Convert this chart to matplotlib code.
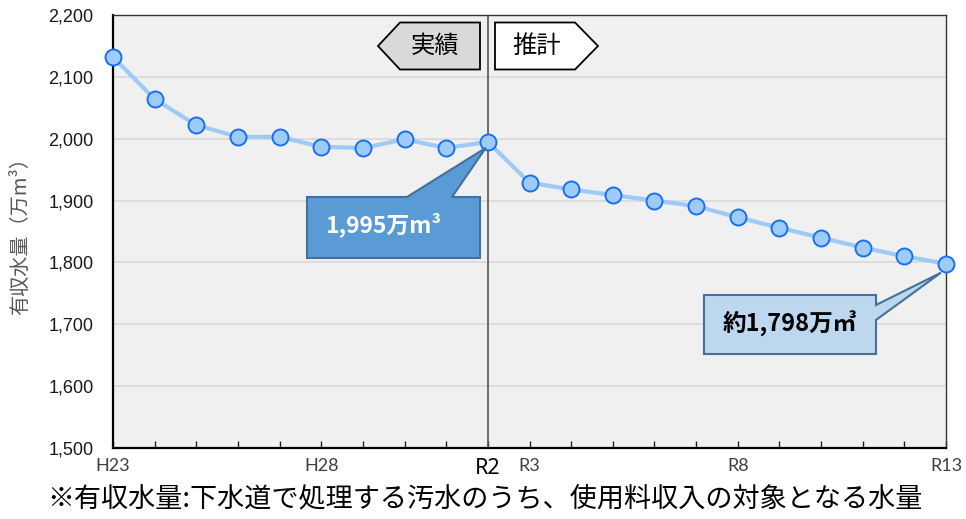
import numpy as np
import matplotlib
matplotlib.use("Agg")
import matplotlib.pyplot as plt
from matplotlib.patches import Polygon
from matplotlib.transforms import IdentityTransform

# ---- data ----
years = ["H23", "H24", "H25", "H26", "H27", "H28", "H29", "H30", "R1", "R2",
         "R3", "R4", "R5", "R6", "R7", "R8", "R9", "R10", "R11", "R12", "R13"]
values = [2132, 2064, 2022, 2003, 2003, 1987, 1985, 1999, 1985, 1995,
          1929, 1918, 1909, 1900, 1891, 1873, 1856, 1840, 1824, 1810, 1798]
shown_labels = ["H23", "H28", "R2", "R3", "R8", "R13"]
yticks = [1500, 1600, 1700, 1800, 1900, 2000, 2100, 2200]

JP = ["Noto Sans CJK JP", "DejaVu Sans"]
plt.rcParams['font.family'] = JP

W, H = 966, 519
fig = plt.figure(figsize=(W / 100, H / 100), dpi=100)
ax = fig.add_axes([113 / W, 1 - 448 / H, (946 - 113) / W, (448 - 15) / H])
ax.set_facecolor("#f0f0f0")

x = np.arange(len(years))
ax.plot(x, values, color="#9dcaf6", lw=3, zorder=3, clip_on=False)
ax.plot(x, values, ls="none", marker="o", ms=11.5, mfc="#9dcbfa", mec="#1a6ff0",
        mew=1.4, zorder=4, clip_on=False)

ax.set_xlim(0, len(years) - 1)
ax.set_ylim(1500, 2200)
ax.set_yticks(yticks)
ax.set_yticklabels([f"{v:,}" for v in yticks], family=["Liberation Sans"],
                   fontsize=13, color="#1a1a1a")
ax.tick_params(axis="y", length=0, pad=14)
ax.grid(axis="y", color="#d9d9d9", lw=1.2)
ax.set_axisbelow(True)

ax.set_xticks(x, minor=True)
ax.set_xticks([years.index(l) for l in shown_labels])
ax.set_xticklabels(shown_labels, family=["Lato"], fontsize=13, color="#404040")
for t in ax.get_xticklabels():
    if t.get_text() == "R2":
        t.set_fontsize(15.5)
        t.set_color("black")
        t.set_fontweight("bold")
        t.set_family(["Noto Sans"])
ax.tick_params(axis="x", which="both", direction="in", length=5, width=1,
               color="#222222", pad=7)

for s in ["left", "bottom"]:
    ax.spines[s].set_color("black")
    ax.spines[s].set_linewidth(1.6)
for s in ["top", "right"]:
    ax.spines[s].set_color("#333333")
    ax.spines[s].set_linewidth(1.0)

# divider at R2
ax.axvline(years.index("R2"), color="#555555", lw=1.2, zorder=2)

ax.set_ylabel("有収水量（万m³）", fontsize=14.5, color="#595959", labelpad=12)

# pixel helper (origin top-left like the reference image)
def P(px, py):
    return (px, H - py)

ident = IdentityTransform()

# 実績 / 推計 arrows
fig.patches.append(Polygon([P(378, 46), P(400, 22.5), P(480, 22.5), P(480, 69.5), P(400, 69.5)],
                           closed=True, fc="#d9d9d9", ec="black", lw=1.3, transform=ident, figure=fig))
fig.text(435 / W, 1 - 46 / H, "実績", fontsize=17.5, ha="center", va="center")
fig.patches.append(Polygon([P(495, 22.5), P(575, 22.5), P(598, 46), P(575, 69.5), P(495, 69.5)],
                           closed=True, fc="white", ec="black", lw=1.3, transform=ident, figure=fig))
fig.text(537 / W, 1 - 46 / H, "推計", fontsize=17.5, ha="center", va="center")

# callout 1: R2 value
i2 = years.index("R2")
tip2 = ax.transData.transform((i2, values[i2]))
fig.patches.append(Polygon([P(307, 197), P(407, 197), tuple(tip2 - np.array([2, 6])), P(452, 197),
                            P(480, 197), P(480, 258), P(307, 258)],
                           closed=True, fc="#5b9bd5", ec="#41719c", lw=1.5, transform=ident, figure=fig,
                           zorder=5))
fig.text(383 / W, 1 - 225 / H, f"{values[i2]:,}万m³", fontsize=16.5, color="white",
         fontweight="bold", ha="center", va="center", zorder=6)

# callout 2: R13 value
i13 = years.index("R13")
tip13 = ax.transData.transform((i13, values[i13]))
fig.patches.append(Polygon([P(704, 295), P(876, 295), P(876, 305), tuple(tip13 - np.array([5, 9])),
                            P(876, 320), P(876, 354), P(704, 354)],
                           closed=True, fc="#bdd7ee", ec="#41719c", lw=1.5, transform=ident, figure=fig,
                           zorder=5))
fig.text(790 / W, 1 - 324 / H, f"約{values[i13]:,}万㎥", fontsize=17, color="black",
         fontweight="bold", ha="center", va="center", zorder=6)

# footnote
fig.text(485 / W, 1 - 499 / H, "※有収水量:下水道で処理する汚水のうち、使用料収入の対象となる水量",
         fontsize=19.5, color="black", ha="center", va="center")

fig.savefig("out.png", dpi=100)
